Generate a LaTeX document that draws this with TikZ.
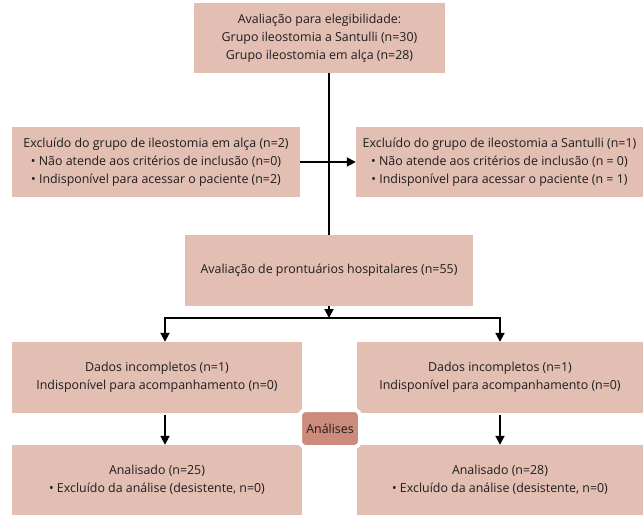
\documentclass[tikz,border=0pt]{standalone}
\usepackage{fontspec}
\setmainfont{Open Sans}
\usetikzlibrary{arrows.meta}
\definecolor{boxpink}{HTML}{E3BEB2}
\definecolor{tagpink}{HTML}{CC8B7B}
\definecolor{ink}{HTML}{1E1E1E}

\begin{document}
\begin{tikzpicture}[
x=1pt, y=-1pt,
box/.style={fill=boxpink, text=ink, align=center, inner sep=0pt,
  font=\fontsize{12.4}{18}\selectfont},
tag/.style={fill=tagpink, draw=white, line width=4pt, rounded corners=6pt,
  text=ink, inner sep=0pt, minimum width=60pt, minimum height=37pt,
  font=\fontsize{12.4}{14}\selectfont},
flow/.style={line width=1.8pt, -{Triangle[width=9pt,length=9pt]}},
plain/.style={line width=1.8pt},
]
\useasboundingbox (0,0) rectangle (643,515);
\node[box, minimum width=251pt, minimum height=70pt] (top) at (319.5,38)
{Avaliação para elegibilidade:\\ Grupo ileostomia a Santulli (n=30)\\ Grupo ileostomia em alça (n=28)};
\node[box, minimum width=288pt, minimum height=70pt] (exclL) at (156,162)
{Excluído do grupo de ileostomia em alça (n=2)\\ • Não atende aos critérios de inclusão (n=0)\\ • Indisponível para acessar o paciente (n=2)};
\node[box, minimum width=287pt, minimum height=70pt] (exclR) at (499.5,162)
{Excluído do grupo de ileostomia a Santulli (n=1)\\ • Não atende aos critérios de inclusão (n = 0)\\ • Indisponível para acessar o paciente (n = 1)};
\node[box, minimum width=288pt, minimum height=71pt] (mid) at (329,270.5)
{Avaliação de prontuários hospitalares (n=55)};
\node[box, minimum width=290pt, minimum height=71pt] (dadosL) at (157,377.5)
{Dados incompletos (n=1)\\ Indisponível para acompanhamento (n=0)};
\node[box, minimum width=286pt, minimum height=71pt] (dadosR) at (500,377.5)
{Dados incompletos (n=1)\\ Indisponível para acompanhamento (n=0)};
\node[box, minimum width=290pt, minimum height=70pt] (analL) at (157,480)
{Analisado (n=25)\\ • Excluído da análise (desistente, n=0)};
\node[box, minimum width=286pt, minimum height=70pt] (analR) at (500,480)
{Analisado (n=28)\\ • Excluído da análise (desistente, n=0)};
\node[tag] (analises) at (330,428.5) {Análises};

% ligacoes
\coordinate (split) at (329,318);
\coordinate (splitL) at (165,318);
\coordinate (splitR) at (500,318);
\draw[plain] (top.south -| mid.north) -- (mid.north);
\draw[flow] (exclL.east) -- (exclR.west);
\draw[flow] (mid.south) -- (split);
\draw[flow] (split) -| (dadosL.north -| splitL);
\draw[flow] (split) -| (dadosR.north -| splitR);
\draw[flow] ([yshift=-2pt]dadosL.south -| splitL) -- (analL.north -| splitL);
\draw[flow] ([yshift=-2pt]dadosR.south -| splitR) -- (analR.north -| splitR);
\end{tikzpicture}
\end{document}
